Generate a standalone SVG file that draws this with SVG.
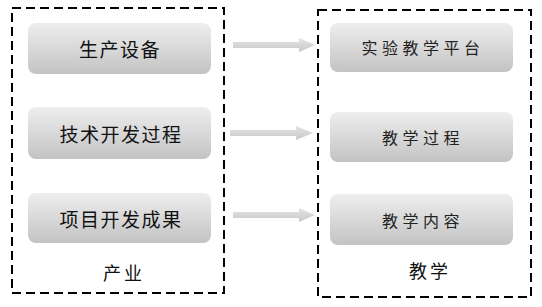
<svg xmlns="http://www.w3.org/2000/svg" width="542" height="307" viewBox="0 0 542 307">
<defs>
<linearGradient id="g" x1="0" y1="0" x2="0" y2="1">
<stop offset="0" stop-color="#eeeeee"/>
<stop offset="1" stop-color="#c3c3c3"/>
</linearGradient>
<linearGradient id="ga" x1="0" y1="0" x2="0" y2="1">
<stop offset="0" stop-color="#e4e4e4"/>
<stop offset="1" stop-color="#c8c8c8"/>
</linearGradient>
<style>
.frame{fill:none;stroke:#000;stroke-width:2;stroke-dasharray:9 5}
.box{fill:url(#g)}
.lt{font-family:"Noto Sans CJK SC","Noto Sans CJK JP",sans-serif;font-size:19px;fill:#111;text-anchor:middle;dominant-baseline:central;letter-spacing:1.5px}
.rt{font-family:"Noto Sans CJK SC","Noto Sans CJK JP",sans-serif;font-size:16px;fill:#222;text-anchor:middle;dominant-baseline:central;letter-spacing:4.5px}
.lab{font-family:"Noto Sans CJK SC","Noto Sans CJK JP",sans-serif;font-size:18px;fill:#111;text-anchor:middle;dominant-baseline:central;letter-spacing:3px}
.arr{fill:url(#ga)}
</style>
</defs>
<rect class="frame" x="12" y="8" width="212" height="285"/>
<rect class="frame" x="318" y="10" width="213" height="287"/>
<g id="n1"><rect class="box" x="28" y="23" width="183" height="51" rx="8"/><text class="lt" x="120" y="48">生产设备</text></g>
<g id="n2"><rect class="box" x="28" y="107" width="183" height="52" rx="8"/><text class="lt" x="121" y="133">技术开发过程</text></g>
<g id="n3"><rect class="box" x="28" y="193" width="183" height="50" rx="8"/><text class="lt" x="121" y="218">项目开发成果</text></g>
<g id="n4"><rect class="box" x="330" y="23" width="183" height="49" rx="8"/><text class="rt" x="423" y="47">实验教学平台</text></g>
<g id="n5"><rect class="box" x="330" y="112" width="183" height="50" rx="8"/><text class="rt" x="423" y="137">教学过程</text></g>
<g id="n6"><rect class="box" x="330" y="194" width="183" height="51" rx="8"/><text class="rt" x="423" y="220">教学内容</text></g>
<g id="l1"><text class="lab" x="124" y="272">产业</text></g>
<g id="l2"><text class="lab" x="430" y="270">教学</text></g>
<g id="connectors">
<polygon class="arr" points="233,42 299,42 299,38 315,45 299,52 299,48 233,48"/>
<polygon class="arr" points="230,130 296,130 296,126 313,133 296,140 296,136 230,136"/>
<polygon class="arr" points="233,212 299,212 299,208 315,215 299,222 299,218 233,218"/>
</g>
</svg>
